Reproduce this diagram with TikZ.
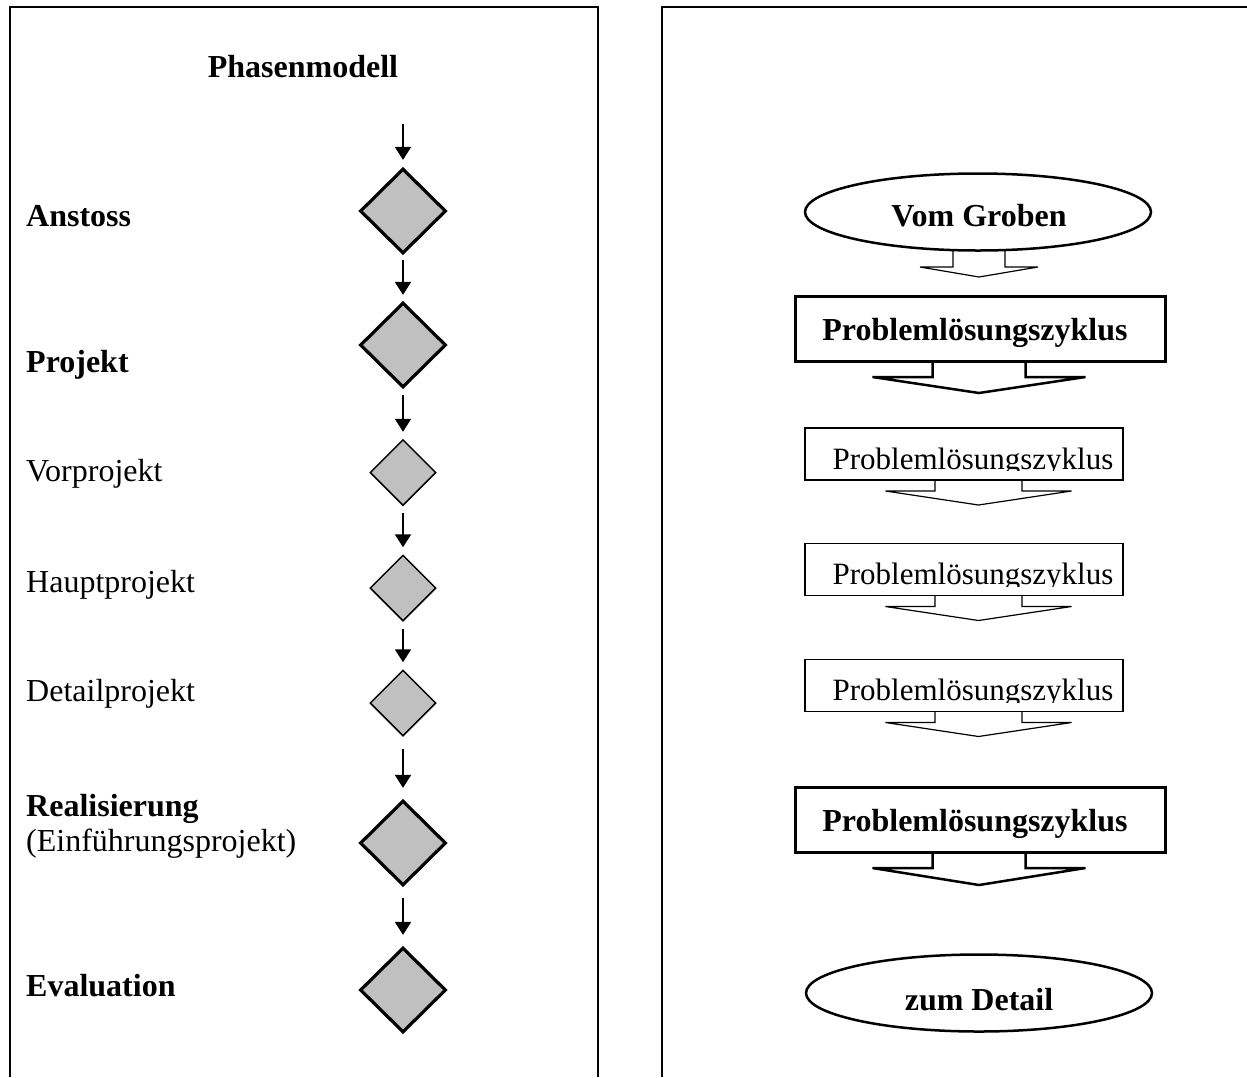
\documentclass[tikz,border=0pt]{standalone}
\usepackage{fontspec}
\setmainfont{Liberation Serif}
\usetikzlibrary{shapes.geometric,arrows.meta,calc}
\definecolor{silv}{HTML}{C0C0C0}
% #1 centre x, #2 top y, #3 shoulder y, #4 tip y, #5 half stem, #6 half wing, #7 style
\newcommand{\blockarr}[7]{%
  \draw[#7] (#1-#5,#2) -- (#1-#5,#3) -- (#1-#6,#3) -- (#1,#4) -- (#1+#6,#3) -- (#1+#5,#3) -- (#1+#5,#2);}
\begin{document}
\begin{tikzpicture}[x=1pt,y=-1pt,
  frame/.style={line width=2pt},
  bigd/.style={diamond,draw,fill=silv,line width=3.2pt,minimum width=86pt,minimum height=85pt,inner sep=0pt},
  smalld/.style={diamond,draw,fill=silv,line width=1.5pt,minimum width=66pt,minimum height=66pt,inner sep=0pt},
  arr/.style={-{Triangle[length=13pt,width=16pt]},line width=2pt},
  lbl/.style={anchor=base west,inner sep=0pt,font=\fontsize{32}{36}\selectfont},
  lblb/.style={anchor=base west,inner sep=0pt,font=\fontsize{32}{36}\selectfont\bfseries},
  ctrb/.style={anchor=base,inner sep=0pt,font=\fontsize{32}{36}\selectfont\bfseries},
  ctr/.style={anchor=base,inner sep=0pt,font=\fontsize{31}{36}\selectfont},
  ell/.style={ellipse,draw,line width=2.5pt,minimum width=346pt,minimum height=77pt,inner sep=0pt},
  bbox/.style={rectangle,draw,line width=3pt,minimum width=370pt,minimum height=65pt,inner sep=0pt},
  tbox/.style={rectangle,draw,line width=1.2pt,minimum width=318pt,minimum height=52pt,inner sep=0pt},
  thinblk/.style={line width=1.2pt,line join=miter},
  thickblk/.style={line width=2.5pt,line join=miter}
]
\useasboundingbox (0,0) rectangle (1247,1077);
% frames
\draw[frame] (10,1077) -- (10,7) -- (598,7) -- (598,1077);
\draw[frame] (662,1077) -- (662,7) -- (1247,7);

% ---------- left: phase model ----------
\node[ctrb] (title) at (303,77) {Phasenmodell};
\node[lblb] (tA) at (26,226) {Anstoss};
\node[lblb] (tP) at (26,372) {Projekt};
\node[lbl] (tV) at (26,481) {Vorprojekt};
\node[lbl] (tH) at (26,592) {Hauptprojekt};
\node[lbl] (tD) at (26,701) {Detailprojekt};
\node[lblb] (tR) at (26,816) {Realisierung};
\node[lbl] (tE) at (26,851) {(Einführungsprojekt)};
\node[lblb] (tEv) at (26,996) {Evaluation};

\coordinate (start) at (403,124);
\node[bigd] (a1) at (403,211) {};
\node[bigd] (a2) at (403,345) {};
\node[smalld] (v) at (403,472.5) {};
\node[smalld] (h) at (403,588) {};
\node[smalld] (d) at (403,703) {};
\node[bigd] (r) at (403,843) {};
\node[bigd] (ev) at (403,990) {};

\draw[arr,shorten >=7pt] (start) -- (a1);
\draw[arr,shorten <=5pt,shorten >=6pt] (a1) -- (a2);
\draw[arr,shorten <=6pt,shorten >=7pt] (a2) -- (v);
\draw[arr,shorten <=7pt,shorten >=7pt] (v) -- (h);
\draw[arr,shorten <=7pt,shorten >=7pt] (h) -- (d);
\draw[arr,shorten <=12pt,shorten >=11pt] (d) -- (r);
\draw[arr,shorten <=11pt,shorten >=11pt] (r) -- (ev);

% ---------- right: from coarse to detail ----------
\node[ell] (g1) at (978,212) {};
\node[ctrb] (g1t) at (979,226) {Vom Groben};
\blockarr{979}{251}{267}{277}{26}{59}{thinblk}

\node[bbox] (b1) at (980,328.5) {};
\node[ctrb] (b1t) at (975,340) {Problemlösungszyklus};
\blockarr{979}{361}{377}{393}{46.5}{106.5}{thickblk}

\node[tbox] (p1) at (964,454) {};
\begin{scope}
  \clip (p1.north west) rectangle ([yshift=10pt]p1.south east);
  \node[ctr] (p1t) at (973,469) {Problemlösungszyklus};
\end{scope}
\blockarr{978.5}{480}{491}{505}{43.5}{93}{thinblk}

\node[tbox] (p2) at (964,569.5) {};
\begin{scope}
  \clip (p2.north west) rectangle ([yshift=10pt]p2.south east);
  \node[ctr] (p2t) at (973,584.5) {Problemlösungszyklus};
\end{scope}
\blockarr{978.5}{595.5}{606.5}{620.5}{43.5}{93}{thinblk}

\node[tbox] (p3) at (964,685.5) {};
\begin{scope}
  \clip (p3.north west) rectangle ([yshift=10pt]p3.south east);
  \node[ctr] (p3t) at (973,700.5) {Problemlösungszyklus};
\end{scope}
\blockarr{978.5}{711.5}{722.5}{736.5}{43.5}{93}{thinblk}

\node[bbox] (b2) at (980,820) {};
\node[ctrb] (b2t) at (975,831) {Problemlösungszyklus};
\blockarr{979}{852.5}{868}{885}{46.5}{106.5}{thickblk}

\node[ell] (g2) at (979,993) {};
\node[ctrb] (g2t) at (979,1010) {zum Detail};
\end{tikzpicture}
\end{document}
